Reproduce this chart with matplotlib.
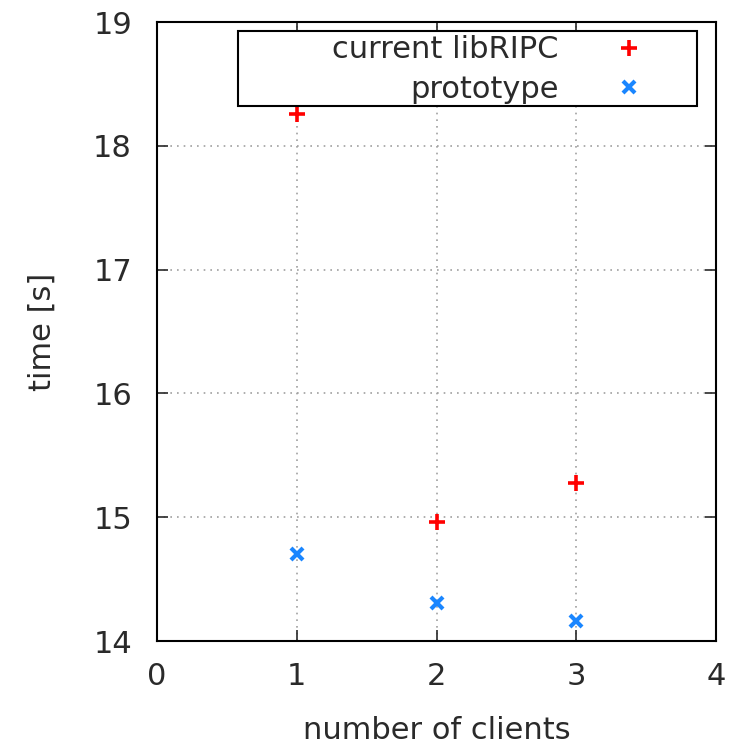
import matplotlib
matplotlib.use("Agg")
import matplotlib.pyplot as plt
from matplotlib.patches import Rectangle

clients = [1, 2, 3]
current_librip = [18.26, 14.96, 15.28]
prototype = [14.70, 14.31, 14.16]
x_ticks = [0, 1, 2, 3, 4]
y_ticks = [14, 15, 16, 17, 18, 19]

plt.rcParams['font.family'] = ['DejaVu Sans']
fig = plt.figure(figsize=(7.3, 7.47), dpi=100)
ax = fig.add_axes([0.215, 0.1419, 0.766, 0.8286])

FS = 22
TXT = '#2a2a2a'

ax.plot(clients, current_librip, linestyle='none', marker='+', markersize=11,
        markeredgewidth=2.6, color='#ff0000', label='current libRIPC', zorder=3)
ax.plot(clients, prototype, linestyle='none', marker='x', markersize=9,
        markeredgewidth=3.0, color='#1a86ff', label='prototype', zorder=3)

ax.set_xlim(0, 4)
ax.set_ylim(14, 19)
ax.set_xticks(x_ticks)
ax.set_yticks(y_ticks)
ax.grid(True, color='#a0a0a0', linestyle=(0, (1, 3)), linewidth=1.2)
ax.tick_params(direction='in', length=8, width=1.2, top=True, right=True,
               labelsize=FS, colors=TXT)
ax.tick_params(axis='y', pad=18)
ax.tick_params(axis='x', pad=15)
for s in ax.spines.values():
    s.set_linewidth(1.5)
    s.set_color('#000000')

ax.set_xlabel('number of clients', fontsize=FS, color=TXT, labelpad=18)
ax.set_ylabel('time [s]', fontsize=FS, color=TXT, labelpad=26)

# legend box (gnuplot style)
ax.add_patch(Rectangle((0.145, 0.864), 0.821, 0.121, transform=ax.transAxes,
                       facecolor='white', edgecolor='black', linewidth=1.5, zorder=4))
leg = ax.legend(loc='upper right', bbox_to_anchor=(0.909, 1.013), frameon=False,
                markerfirst=False, alignment='right', fontsize=FS,
                handlelength=1.0, handletextpad=1.8, labelspacing=0.35,
                borderpad=0.2)
leg.set_zorder(5)
for t in leg.get_texts():
    t.set_color(TXT)

fig.savefig('out.png', dpi=100)
